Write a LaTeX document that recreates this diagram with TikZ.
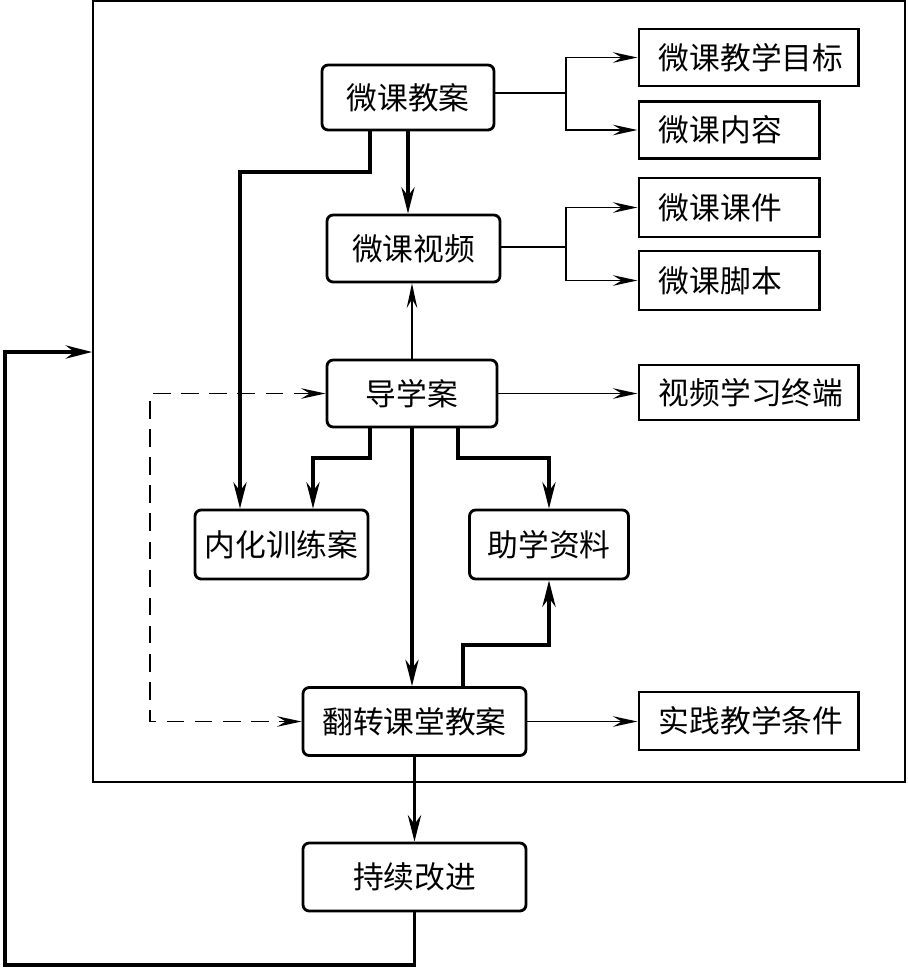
\documentclass[tikz,border=0pt]{standalone}
\usepackage{fontspec}
\usepackage{tikz}
\usetikzlibrary{arrows.meta,positioning,calc}
\newfontfamily\cjk{Noto Sans CJK SC}

\begin{document}
\begin{tikzpicture}[
  x=0.02cm, y=-0.02cm,
  every node/.style={font=\cjk\fontsize{17.5}{20}\selectfont},
  >={Stealth[length=14pt, width=6pt, inset=5pt]},
  plan/.style={draw, line width=1.6pt, rounded corners=3.5pt, align=center,
               minimum height=1.34cm, inner sep=0pt},
  item/.style={draw, line width=1.6pt, minimum height=1.14cm, inner sep=0pt,
               inner xsep=0.4cm, align=left, text width=#1, anchor=west},
  arr/.style={->, line width=1.1pt},
  arrbold/.style={-{Stealth[length=15pt, width=7.5pt, inset=5pt]}, line width=2.2pt},
  arrdash/.style={<->, line width=1.1pt, dash pattern=on 10pt off 6pt},
]
\useasboundingbox (0,0) rectangle (908,968);

%% Outer frame
\node[draw, line width=1.1pt, minimum width=16.24cm, minimum height=15.62cm,
      inner sep=0pt] (frame) at (499,391.5) {};

%% Left column: plans
\node[plan, minimum width=3.44cm, minimum height=1.3cm] (lesson) at (408,97.5) {微课教案};
\node[plan, minimum width=3.46cm] (video) at (413.5,248.5) {微课视频};
\node[plan, minimum width=3.40cm] (guide) at (412,393.5) {导学案};
\node[plan, minimum width=3.46cm, minimum height=1.38cm] (drill) at (281.5,544.5) {内化训练案};
\node[plan, minimum width=3.18cm, minimum height=1.38cm] (aid) at (549,544.5) {助学资料};
\node[plan, minimum width=4.46cm, minimum height=1.36cm] (flip) at (414.5,721.5) {翻转课堂教案};
\node[plan, minimum width=4.46cm, minimum height=1.36cm] (improve) at (414.5,877) {持续改进};

%% Right column: items
\node[item=3.6cm] (goal) at (637.5,57.5) {微课教学目标};
\node[item=2.82cm] (content) at (637.5,130) {微课内容};
\node[item=2.82cm, minimum height=1.18cm] (slides) at (637.5,207.5) {微课课件};
\node[item=2.82cm, minimum height=1.18cm] (script) at (637.5,280.5) {微课脚本};
\node[item=3.6cm, minimum height=1.1cm] (terminal) at (637.5,392.5) {视频学习终端};
\node[item=3.6cm, minimum height=1.16cm] (cond) at (637.5,721) {实践教学条件};

%% Helper points
\coordinate (split1) at (566,93);
\coordinate (split2) at (566,247);
\coordinate (bendA) at (370,172);
\coordinate (bendB) at (240,172);
\coordinate (bendC) at (370,458);
\coordinate (bendD) at (313,458);
\coordinate (bendE) at (458,458);
\coordinate (bendF) at (463,645);
\coordinate (dashL) at (150,721.5);
\coordinate (loopA) at (5,965);
\coordinate (loopB) at (5,352);

%% Branches to the right
\draw[arr] (lesson.east |- split1) -- (split1) |- (goal);
\draw[arr] (split1) |- (content);
\draw[arr] (video.east |- split2) -- (split2) |- (slides);
\draw[arr] (split2) |- (script);
\draw[arr] (guide) -- (guide -| terminal.west);
\draw[arr] (flip) -- (flip -| cond.west);

%% Main flow
\draw[arrbold] (lesson.south) -- (lesson.south |- video.north);
\draw[arrbold] (lesson.south -| bendA) -- (bendA) -- (bendB) -- (bendB |- drill.north);
\draw[arr] (guide.north) -- (guide.north |- video.south);
\draw[arrbold] (guide.south -| bendC) -- (bendC) -- (bendD) -- (bendD |- drill.north);
\draw[arrbold] (guide.south -| bendE) -- (bendE) -| (aid);
\draw[arrbold] (guide.south) -- (guide.south |- flip.north);
\draw[arrbold] (flip.north -| bendF) -- (bendF) -| (aid);
\draw[arrdash] (guide) -| (dashL) |- (flip);
\draw[arrbold] (flip) -- (improve);

%% Feedback loop
\draw[arrbold] (improve.south) -- (improve.south |- loopA) -- (loopA) -- (loopB) -- (loopB -| frame.west);

\end{tikzpicture}
\end{document}
